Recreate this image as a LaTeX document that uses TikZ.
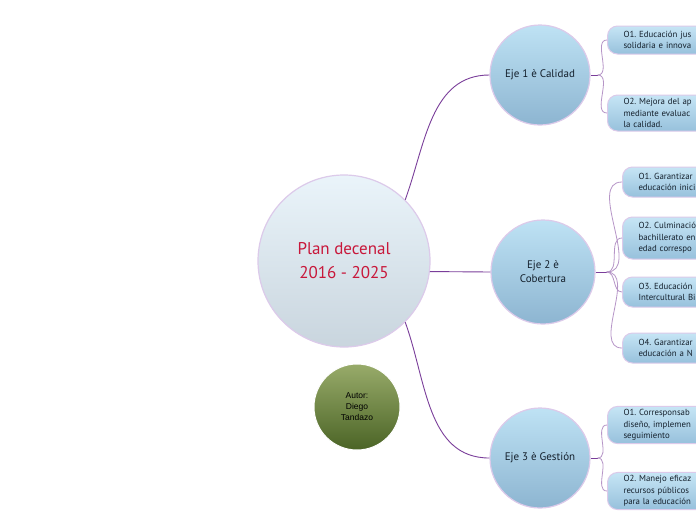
\documentclass[tikz,border=0pt]{standalone}
\usepackage{fontspec}
\setmainfont{PT Sans}
\newfontfamily\autorfont{Liberation Sans}
\frenchspacing
\usetikzlibrary{positioning, calc}
\definecolor{planred}{HTML}{C8173A}
\definecolor{planpurple}{HTML}{7A3E9A}
\definecolor{planrim}{HTML}{DCCAEA}
\definecolor{plantop}{HTML}{EAF4FA}
\definecolor{planbot}{HTML}{C9D5DE}
\definecolor{ejetop}{HTML}{BEE2F4}
\definecolor{ejebot}{HTML}{8DB5D1}
\definecolor{objtop}{HTML}{C6E5F5}
\definecolor{objbot}{HTML}{97C1DC}
\definecolor{objtext}{HTML}{14202C}
\definecolor{autortop}{HTML}{98AB6A}
\definecolor{autorbot}{HTML}{4B6426}

\tikzset{
  topic/.style={circle, draw=planrim, line width=1.2pt, minimum size=172pt,
    top color=plantop, bottom color=planbot, text=planred, align=center,
    font=\fontsize{17}{24}\selectfont},
  eje/.style={circle, draw=planrim, line width=1.2pt, minimum size=100pt,
    top color=ejetop, bottom color=ejebot, text=objtext, align=center,
    font=\fontsize{11}{14}\selectfont},
  objbox/.style={rectangle, rounded corners=10pt, draw=planrim, line width=1pt,
    top color=objtop, bottom color=objbot, text=objtext, anchor=west,
    text width=110pt, align=left, inner xsep=16pt, inner ysep=3pt,
    font=\fontsize{8.8}{11.5}\selectfont},
  autor/.style={circle, draw=white, line width=1pt, minimum size=86pt,
    top color=autortop, bottom color=autorbot, align=center,
    font=\autorfont\fontsize{8.5}{11}\selectfont},
  link/.style={draw=planpurple, line width=0.9pt},
  twig/.style={draw=planpurple!55, line width=0.8pt},
}

\begin{document}
\begin{tikzpicture}[x=1pt, y=-1pt]
  \path[use as bounding box, clip] (0,0) rectangle (696,520);
  \fill[white] (0,0) rectangle (696,520);

  % centre and author
  \node[topic] (plan) at (344,261) {Plan decenal\\2016 - 2025};
  \node[autor] (autor) at (357,407) {Autor:\\Diego\\Tandazo};

  % axes
  \node[eje] (eje1) at (540,75) {Eje 1 è Calidad};
  \node[eje, minimum size=104pt] (eje2) at (543,272) {Eje 2 è\\Cobertura};
  \node[eje] (eje3) at (540,458) {Eje 3 è Gestión};

  \draw[link] (plan.45) to[out=70, in=180] (eje1.west);
  \draw[link] (plan.-7) -- (eje2.west);
  \draw[link] (plan.-45) to[out=-70, in=180] (eje3.west);

  % objectives, eje 1
  \node[objbox, minimum height=28pt] (o11) at (607,40) {O1. Educación jus\\solidaria e innova};
  \node[objbox, minimum height=36pt] (o12) at (607,113) {O2. Mejora del ap\\mediante evaluac\\la calidad.};
  \coordinate (j1) at ($(eje1.east)+(7,0)$);
  \draw[link] (eje1.east) -- (j1);
  \foreach \o in {o11,o12} \draw[twig] (j1) to[out=0, in=180] (\o.west);

  % objectives, eje 2
  \node[objbox, minimum height=30pt] (o21) at (622,182) {O1. Garantizar\\educación inici};
  \node[objbox, minimum height=42pt] (o22) at (622,238) {O2. Culminació\\bachillerato en\\edad correspo};
  \node[objbox, minimum height=30pt] (o23) at (622,292) {O3. Educación\\Intercultural Bi};
  \node[objbox, minimum height=30pt] (o24) at (622,348) {O4. Garantizar\\educación a N};
  \coordinate (j2) at ($(eje2.east)+(11,0)$);
  \draw[link] (eje2.east) -- (j2);
  \foreach \o in {o21,o22,o23,o24} \draw[twig] (j2) to[out=0, in=180] (\o.west);

  % objectives, eje 3
  \node[objbox, minimum height=36pt] (o31) at (607,425) {O1. Corresponsab\\diseño, implemen\\seguimiento};
  \node[objbox, minimum height=34pt] (o32) at (607,491) {O2. Manejo eficaz\\recursos públicos\\para la educación};
  \coordinate (j3) at ($(eje3.east)+(7,0)$);
  \draw[link] (eje3.east) -- (j3);
  \foreach \o in {o31,o32} \draw[twig] (j3) to[out=0, in=180] (\o.west);
\end{tikzpicture}
\end{document}
